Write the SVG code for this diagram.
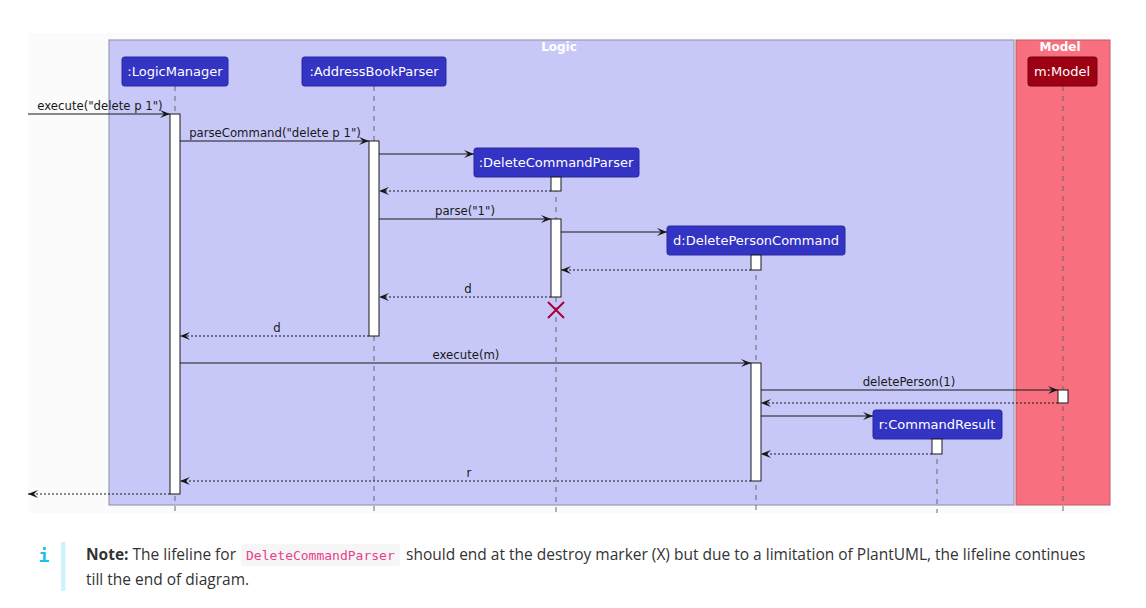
<svg xmlns="http://www.w3.org/2000/svg" width="1146" height="608" viewBox="0 0 1146 608">
<style>
.part{fill:#3333c4;stroke:#2828a0;stroke-width:1}
.ptxt{font-family:"DejaVu Sans",sans-serif;font-size:13px;fill:#ffffff;text-anchor:middle}
.life{stroke:#666;stroke-width:1;stroke-dasharray:5,5;fill:none}
.act{fill:#ffffff;stroke:#181818;stroke-width:1}
.msg{stroke:#181818;stroke-width:1;fill:none;marker-end:url(#ah)}
.ret{stroke:#181818;stroke-width:1;fill:none;stroke-dasharray:2,2;marker-end:url(#ah)}
.mtxt{font-family:"DejaVu Sans",sans-serif;font-size:11.7px;fill:#181818;text-anchor:middle}
.btitle{font-family:"DejaVu Sans",sans-serif;font-size:12px;font-weight:bold;fill:#ffffff;text-anchor:middle}
.note{font-family:"Open Sans","Noto Sans",sans-serif;font-size:15.5px;fill:#333333}
</style>
<defs>
<marker id="ah" markerWidth="12" markerHeight="10" refX="11" refY="5" orient="auto" markerUnits="userSpaceOnUse">
<path d="M1,1 L11,5 L1,9 L5,5 Z" fill="#181818"/>
</marker>
</defs>
<rect width="1146" height="608" fill="#ffffff"/>
<rect x="28" y="33" width="1082" height="480" fill="#fbfbfb"/>
<g id="box-logic">
<rect x="109" y="40" width="905" height="465" fill="#c8c8f8" stroke="#9a9ab4" stroke-width="1.2"/>
<text class="btitle" x="559" y="51">Logic</text>
</g>
<g id="box-model">
<rect x="1016" y="40" width="94" height="465" fill="#f87080" stroke="#c05a68" stroke-width="1"/>
<text class="btitle" x="1060" y="51">Model</text>
</g>
<g id="lifelines">
<line class="life" x1="175" y1="86" x2="175" y2="513"/>
<line class="life" x1="374" y1="86" x2="374" y2="513"/>
<line class="life" x1="556" y1="177" x2="556" y2="513"/>
<line class="life" x1="756" y1="255" x2="756" y2="513"/>
<line class="life" x1="937" y1="439" x2="937" y2="513"/>
<line class="life" x1="1063" y1="86" x2="1063" y2="513"/>
</g>
<g id="LogicManager">
<rect class="part" x="122" y="57" width="106" height="29" rx="2.5"/>
<text class="ptxt" x="175" y="76">:LogicManager</text>
<rect class="act" x="170" y="114" width="10" height="380"/>
</g>
<g id="AddressBookParser">
<rect class="part" x="302" y="57" width="144" height="29" rx="2.5"/>
<text class="ptxt" x="374" y="76">:AddressBookParser</text>
<rect class="act" x="369" y="141" width="10" height="195"/>
</g>
<g id="DeleteCommandParser">
<rect class="part" x="474" y="148" width="165" height="29" rx="2.5"/>
<text class="ptxt" x="556" y="167">:DeleteCommandParser</text>
<rect class="act" x="551" y="177" width="10" height="14"/>
<rect class="act" x="551" y="219" width="10" height="78"/>
<path d="M548,302 L564,318 M564,302 L548,318" stroke="#a80036" stroke-width="2" fill="none"/>
</g>
<g id="DeletePersonCommand">
<rect class="part" x="667" y="226" width="178" height="29" rx="2.5"/>
<text class="ptxt" x="756" y="245">d:DeletePersonCommand</text>
<rect class="act" x="751" y="255" width="10" height="15"/>
<rect class="act" x="751" y="363" width="10" height="118"/>
</g>
<g id="CommandResult">
<rect class="part" x="873" y="410" width="129" height="29" rx="2.5"/>
<text class="ptxt" x="937" y="429">r:CommandResult</text>
<rect class="act" x="932" y="439" width="10" height="15"/>
</g>
<g id="Model">
<rect x="1028" y="57" width="69" height="29" rx="2.5" fill="#9d0012" stroke="#700010" stroke-width="1"/>
<text class="ptxt" x="1062" y="76">m:Model</text>
<rect class="act" x="1058" y="390" width="10" height="13"/>
</g>
<g id="connectors">
<line class="msg" x1="28" y1="114" x2="170" y2="114"/>
<text class="mtxt" x="100" y="110">execute("delete p 1")</text>
<line class="msg" x1="180" y1="141" x2="369" y2="141"/>
<text class="mtxt" x="275" y="137">parseCommand("delete p 1")</text>
<line class="msg" x1="379" y1="154" x2="474" y2="154"/>
<line class="ret" x1="551" y1="191" x2="379" y2="191"/>
<line class="msg" x1="379" y1="219" x2="551" y2="219"/>
<text class="mtxt" x="465" y="215">parse("1")</text>
<line class="msg" x1="561" y1="232" x2="667" y2="232"/>
<line class="ret" x1="751" y1="270" x2="561" y2="270"/>
<line class="ret" x1="551" y1="297" x2="379" y2="297"/>
<text class="mtxt" x="468" y="293">d</text>
<line class="ret" x1="369" y1="336" x2="180" y2="336"/>
<text class="mtxt" x="277" y="332">d</text>
<line class="msg" x1="180" y1="363" x2="751" y2="363"/>
<text class="mtxt" x="466" y="359">execute(m)</text>
<line class="msg" x1="761" y1="390" x2="1058" y2="390"/>
<text class="mtxt" x="909" y="386">deletePerson(1)</text>
<line class="ret" x1="1058" y1="403" x2="761" y2="403"/>
<line class="msg" x1="761" y1="416" x2="873" y2="416"/>
<line class="ret" x1="932" y1="454" x2="761" y2="454"/>
<line class="ret" x1="751" y1="481" x2="180" y2="481"/>
<text class="mtxt" x="469" y="477">r</text>
<line class="ret" x1="170" y1="494" x2="28" y2="494"/>
</g>
<g id="note">
<text x="44" y="562" font-family="'DejaVu Sans Mono',monospace" font-size="18" font-weight="bold" fill="#19c0e8" text-anchor="middle">i</text>
<rect x="61" y="542" width="4.5" height="49" fill="#cff3fa"/>
<rect x="241" y="544" width="159" height="22" rx="3" fill="#f6f6f6"/>
<text class="note" x="86" y="560"><tspan font-weight="bold">Note:</tspan> The lifeline for</text>
<text x="246" y="560" font-family="'DejaVu Sans Mono',monospace" font-size="13" fill="#e83e8c">DeleteCommandParser</text>
<text class="note" x="406" y="560">should end at the destroy marker (X) but due to a limitation of PlantUML, the lifeline continues</text>
<text class="note" x="86" y="585">till the end of diagram.</text>
</g>
</svg>
